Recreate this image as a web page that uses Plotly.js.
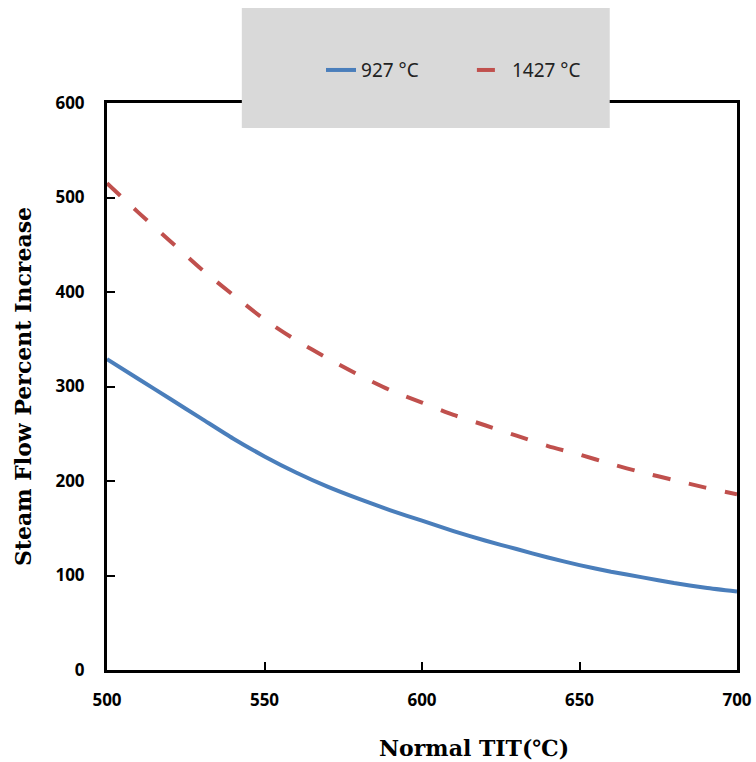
<!DOCTYPE html>
<html>
<head>
<meta charset="utf-8">
<script src="https://cdn.plot.ly/plotly-3.0.1.min.js"></script>
<style>html,body{margin:0;padding:0;background:#fff;}#chart{width:756px;height:762px;}</style>
</head>
<body>
<div id="chart"></div>
<script>
const tit = [500, 510, 520, 530, 540, 550, 560, 570, 580, 590, 600, 610, 620, 630, 640, 650, 660, 670, 680, 690, 700];
const flow927 = [329, 308, 287, 266, 245, 226, 209, 194, 181, 169, 158, 147, 137, 128, 119, 111, 104, 98, 92, 87, 83];
const flow1427 = [515, 484, 454, 424, 397, 371, 349, 330, 312, 296, 283, 270, 259, 248, 237, 228, 218, 209, 201, 193, 186];
const seriesNames = ["927 °C", "1427 °C"];
const xTicks = [500, 550, 600, 650, 700];
const yTicks = [0, 100, 200, 300, 400, 500, 600];
const xTitle = "Normal TIT(℃)";
const yTitle = "Steam Flow Percent Increase";

const traces = [
  {x: tit, y: flow927, name: seriesNames[0], mode: "lines", legend: "legend",
   line: {color: "#4a7ebb", width: 4, shape: "spline", smoothing: 0.6}},
  {x: tit, y: flow1427, name: seriesNames[1], mode: "lines", legend: "legend2",
   line: {color: "#c0504d", width: 4, dash: "18px,19px", shape: "spline", smoothing: 0.6}}
];

const tickFont = {family: "Noto Sans, Open Sans, sans-serif", size: 17, color: "#000", weight: "bold"};
const titleFont = {family: "DejaVu Serif, Liberation Serif, serif", size: 22, color: "#000", weight: "bold"};
const legendFont = {family: "Noto Sans, Open Sans, sans-serif", size: 19, color: "#222"};

const layout = {
  width: 756, height: 762,
  margin: {l: 107, r: 19, t: 103, b: 92},
  paper_bgcolor: "#fff", plot_bgcolor: "#fff",
  showlegend: true,
  legend: {orientation: "h", x: 0.3397, y: 1.058, xanchor: "left", yanchor: "middle",
           bgcolor: "rgba(0,0,0,0)", font: legendFont},
  legend2: {orientation: "h", x: 0.5792, y: 1.058, xanchor: "left", yanchor: "middle",
           bgcolor: "rgba(0,0,0,0)", font: legendFont},
  shapes: [{type: "rect", xref: "paper", yref: "paper", x0: 0.214, x1: 0.798, y0: 0.956, y1: 1.1675,
            fillcolor: "#d9d9d9", line: {width: 0}, layer: "above"}],
  annotations: [{text: xTitle, xref: "paper", yref: "paper", x: 0.583, y: -0.1376,
                 xanchor: "center", yanchor: "middle", showarrow: false, font: titleFont}],
  xaxis: {range: [500, 700], tickvals: xTicks, ticks: "inside", ticklen: 8, tickwidth: 2, tickcolor: "#000",
          showline: true, linecolor: "#000", linewidth: 3, mirror: true, showgrid: false, zeroline: false,
          tickfont: tickFont, ticklabelstandoff: 13},
  yaxis: {range: [0, 600], tickvals: yTicks, ticks: "inside", ticklen: 8, tickwidth: 2, tickcolor: "#000",
          showline: true, linecolor: "#000", linewidth: 3, mirror: true, showgrid: false, zeroline: false,
          tickfont: tickFont, ticklabelstandoff: 16,
          title: {text: yTitle, font: titleFont, standoff: 18}}
};

Plotly.newPlot("chart", traces, layout, {displayModeBar: false, staticPlot: true});
</script>
</body>
</html>
